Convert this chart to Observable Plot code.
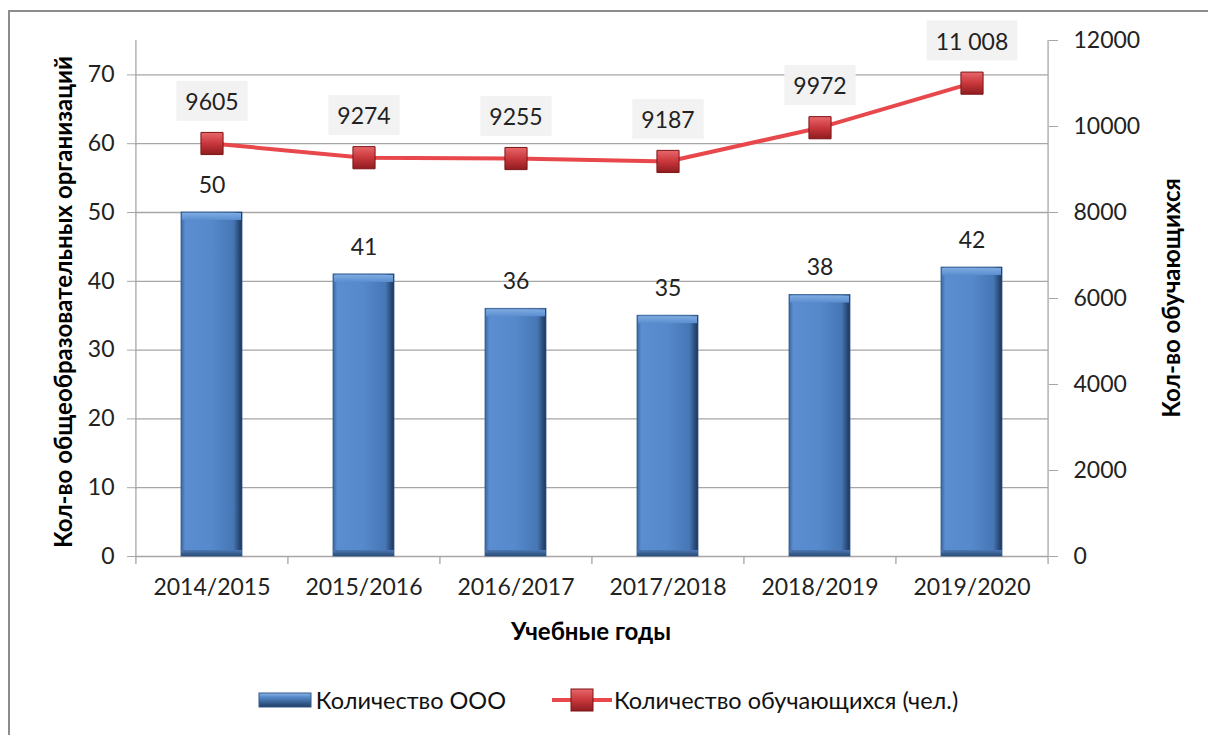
<!DOCTYPE html>
<html><head><meta charset="utf-8">
<script src="https://cdn.jsdelivr.net/npm/d3@7"></script>
<script src="https://cdn.jsdelivr.net/npm/@observablehq/plot@0.6"></script>
<style>
html,body{margin:0;padding:0;background:#fff;overflow:hidden;}
body{width:1208px;height:735px;position:relative;font-family:Lato,"Open Sans",sans-serif;color:#000;}
#frame{position:absolute;left:8px;top:10px;width:1400px;height:900px;border-left:2px solid #8c8c8c;border-top:2px solid #8c8c8c;}
#chart{position:absolute;left:0;top:0;}
.title{position:absolute;font-weight:bold;font-size:24px;white-space:nowrap;transform:translate(-50%,-50%);}
.rot{transform:translate(-50%,-50%) rotate(-90deg);}
#legend{position:absolute;top:686px;left:4px;width:1208px;display:flex;justify-content:center;align-items:center;font-size:23.5px;color:#111;}
#legend .item{display:flex;align-items:center;}
#legend svg{display:block;}
</style></head>
<body>
<div id="frame"></div>
<div id="chart"></div>
<div class="title rot" style="left:62px;top:302px;">Кол-во общеобразовательных организаций</div>
<div class="title rot" style="left:1170px;top:298px;">Кол-во обучающихся</div>
<div class="title" style="left:591px;top:630px;">Учебные годы</div>
<div id="legend"></div>
<script>
const years = ["2014/2015","2015/2016","2016/2017","2017/2018","2018/2019","2019/2020"];
const schools = [50,41,36,35,38,42];
const students = [9605,9274,9255,9187,9972,11008];
const studentLabels = ["9605","9274","9255","9187","9972","11 008"];
const leftTicks = [0,10,20,30,40,50,60,70];
const rightTicks = [0,2000,4000,6000,8000,10000,12000];
const seriesNames = ["Количество ООО","Количество обучающихся (чел.)"];
const leftMax = 75, rightMax = 12000;
const k = leftMax / rightMax;

const data = years.map((year,i)=>({year, schools: schools[i], students: students[i], scaled: students[i]*k, label: studentLabels[i]}));

const W=1208, H=660, mL=135, mR=160, mT=40, mB=104;
const step = (W-mL-mR)/years.length;
const grid = "#a6a6a6";

const svg = Plot.plot({
  width: W, height: H,
  marginLeft: mL, marginRight: mR, marginTop: mT, marginBottom: mB,
  style: {fontFamily: "Lato, 'Open Sans', sans-serif", fontSize: "23px", color: "#222", background: "transparent"},
  x: {type: "band", domain: years, paddingInner: 0.6, paddingOuter: 0.3, label: null},
  y: {domain: [0, leftMax], label: null},
  marks: [
    Plot.ruleY(leftTicks, {stroke: grid, strokeWidth: 1.3}),
    Plot.ruleX([years[0]], {y1: 0, y2: leftMax, dx: -step/2, stroke: grid, strokeWidth: 1.3}),
    Plot.ruleX([years[years.length-1]], {y1: 0, y2: leftMax, dx: step/2, stroke: grid, strokeWidth: 1.3}),
    Plot.ruleX(years, {y1: 0, y2: 0, insetBottom: -8, dx: -step/2, stroke: grid, strokeWidth: 1.3}),
    Plot.ruleX([years[years.length-1]], {y1: 0, y2: 0, insetBottom: -8, dx: step/2, stroke: grid, strokeWidth: 1.3}),
    Plot.axisY({anchor: "left", ticks: leftTicks, tickSize: 8, tickPadding: 13, stroke: grid, fill: "#222", fontSize: 23, label: null}),
    Plot.axisY({anchor: "right", ticks: rightTicks.map(v=>v*k), tickFormat: d=>String(Math.round(d/k)), tickSize: 9, tickPadding: 16, stroke: grid, fill: "#222", fontSize: 23, label: null}),
    Plot.axisX({tickSize: 0, tickPadding: 22, fill: "#222", fontSize: 23, label: null}),
    Plot.barY(data, {x: "year", y: "schools", fill: "url(#barGrad)", stroke: "#34598a", strokeWidth: 0.8}),
    Plot.barY(data, {x: "year", y1: "schools", y2: "schools", insetBottom: -8, inset: 1, fill: "url(#topGrad)"}),
    Plot.barY(data, {x: "year", y1: 0, y2: 0, insetTop: -6, fill: "url(#botGrad)"}),
    Plot.text(data, {x: "year", y: "schools", text: d=>String(d.schools), dy: -27, fontSize: 23, fill: "#222"}),
    Plot.line(data, {x: "year", y: "scaled", stroke: "#e8474b", strokeWidth: 4}),
    Plot.text(data, {x: "year", y: "scaled", text: "label", dy: -41, fontSize: 23, fill: "#222", ariaLabel: () => "line-label"}),
    Plot.dot(data, {x: "year", y: "scaled", symbol: "square", r: 12.5, fill: "url(#markGrad)", stroke: "#7d1518", strokeWidth: 1})
  ]
});

const defs = d3.select(svg).insert("defs", ":first-child");
function lin(id, dir, stops){
  const g = defs.append("linearGradient").attr("id", id)
    .attr("x1",0).attr("y1",0).attr("x2", dir==="h"?1:0).attr("y2", dir==="h"?0:1);
  stops.forEach(([o,c])=>g.append("stop").attr("offset",o).attr("stop-color",c));
}
lin("barGrad","h",[[0,"#3a679e"],[0.07,"#5a8ed0"],[0.5,"#5589cb"],[0.86,"#4676b5"],[1,"#1a3457"]]);
lin("topGrad","v",[[0,"#7eaae0"],[1,"#5a8ed0"]]);
lin("botGrad","v",[[0,"#4a78b3"],[1,"#2c4d78"]]);
lin("markGrad","v",[[0,"#e8676a"],[0.5,"#c8373b"],[1,"#8f1c20"]]);

document.getElementById("chart").appendChild(svg);

let labelTexts = svg.querySelectorAll('text[aria-label="line-label"]');
if (labelTexts.length === 0) {
  const groups = svg.querySelectorAll('g[aria-label="text"]');
  if (groups.length) labelTexts = groups[groups.length-1].querySelectorAll("text");
}
labelTexts.forEach(t=>{
  const b = t.getBBox();
  const r = document.createElementNS("http://www.w3.org/2000/svg","rect");
  r.setAttribute("x", b.x-9); r.setAttribute("y", b.y-6);
  r.setAttribute("width", b.width+18); r.setAttribute("height", b.height+12);
  r.setAttribute("fill", "#f2f2f2");
  const tr = t.getAttribute("transform"); if (tr) r.setAttribute("transform", tr);
  t.parentNode.insertBefore(r, t);
});

const legend = d3.select("#legend");
const i1 = legend.append("div").attr("class","item").style("margin-right","46px");
const s1 = i1.append("svg").attr("width",54).attr("height",16).style("margin-right","4px");
const d1 = s1.append("defs");
const g1 = d1.append("linearGradient").attr("id","lg1").attr("x1",0).attr("y1",0).attr("x2",0).attr("y2",1);
[[0,"#8db5e7"],[0.3,"#5589cb"],[1,"#1f3c63"]].forEach(([o,c])=>g1.append("stop").attr("offset",o).attr("stop-color",c));
s1.append("rect").attr("x",1).attr("y",1).attr("width",52).attr("height",14).attr("fill","url(#lg1)").attr("stroke","#34598a");
i1.append("span").text(seriesNames[0]);
const i2 = legend.append("div").attr("class","item");
const s2 = i2.append("svg").attr("width",60).attr("height",26).style("margin-right","2px");
const d2 = s2.append("defs");
const g2 = d2.append("linearGradient").attr("id","lg2").attr("x1",0).attr("y1",0).attr("x2",0).attr("y2",1);
[[0,"#e8676a"],[0.5,"#c8373b"],[1,"#8f1c20"]].forEach(([o,c])=>g2.append("stop").attr("offset",o).attr("stop-color",c));
s2.append("line").attr("x1",0).attr("x2",60).attr("y1",13).attr("y2",13).attr("stroke","#e8474b").attr("stroke-width",4);
s2.append("rect").attr("x",19).attr("y",2).attr("width",22).attr("height",22).attr("fill","url(#lg2)").attr("stroke","#7d1518");
i2.append("span").text(seriesNames[1]);
</script>
</body></html>
